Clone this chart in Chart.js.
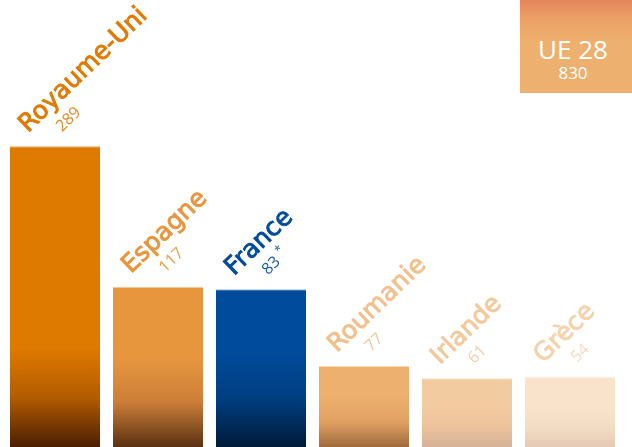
<!DOCTYPE html>
<html>
<head>
<meta charset="utf-8">
<script src="https://cdn.jsdelivr.net/npm/chart.js@4/dist/chart.umd.min.js"></script>
<style>
  html, body { margin: 0; padding: 0; background: #fff; }
  #wrap { position: relative; width: 632px; height: 447px; }
  #ue {
    position: absolute; left: 520px; top: 0; width: 112px; height: 93px;
    background: linear-gradient(#e4855a 0%, #eca266 22%, #eeb06e 45%, #eeb06e 100%);
    color: #fff; text-align: center; font-family: "Open Sans", sans-serif;
  }
  #ue .t { font-size: 26px; font-weight: 500; line-height: 26px; padding-top: 36px; margin-left: -6px; }
  #ue .v { font-size: 17px; font-weight: 400; line-height: 18px; margin-top: 2px; margin-left: -6px; }
</style>
</head>
<body>
<div id="wrap">
  <canvas id="barChart" width="632" height="447"></canvas>
  <div id="ue"><div class="t" id="ueTitle"></div><div class="v" id="ueValue"></div></div>
</div>
<script>
var countries = ["Royaume-Uni", "Espagne", "France", "Roumanie", "Irlande", "Grèce"];
var counts = ["289", "117", "83", "77", "61", "54"];
var notes = ["", "", "*", "", "", ""];
// bar lengths as drawn in the picture (not to scale), % of plot height
var barLevels = [67.3, 35.8, 35.3, 18.1, 15.4, 15.7];
var totalLabel = "UE 28";
var totalValue = "830";

// colours
var topColors = ["#df7a00", "#e8963e", "#004b9b", "#eeb06e", "#f3cba0", "#f9e4cb"];
var midColors = ["#b45c00", "#cc7e38", "#003e80", "#dfa062", "#ecc29c", "#f3dcc4"];
var bottomColors = ["#4a1e00", "#5a3012", "#001a38", "#a06a3c", "#d6b296", "#e4cab4"];
var edgeColors = ["#eaa458", "#f2c69a", "#9fb6d6", "#f7d6b2", "#f9e2c8", "#fcefe2"];
var fadeHeights = [100, 90, 95, 50, 40, 40];
var nameColors = ["#e07b00", "#e8963e", "#004b9b", "#f1c18e", "#f3c99c", "#f5d2ab"];
var valueColors = ["#e58a20", "#ea9e4e", "#1a5ca6", "#f1c69a", "#f4d0aa", "#f8dcc0"];

document.getElementById("ueTitle").textContent = totalLabel;
document.getElementById("ueValue").textContent = totalValue;

var labelPlugin = {
  id: "barLabels",
  afterDatasetsDraw: function(chart) {
    var ctx = chart.ctx;
    var meta = chart.getDatasetMeta(0);
    meta.data.forEach(function(bar, i) {
      ctx.save();
      ctx.translate(bar.x - bar.width / 2 + 18, bar.y - 13);
      ctx.rotate(-44 * Math.PI / 180);
      ctx.textAlign = "left";
      ctx.textBaseline = "alphabetic";
      ctx.fillStyle = nameColors[i];
      ctx.strokeStyle = nameColors[i];
      ctx.lineWidth = 0.9;
      ctx.font = "25px 'DejaVu Sans'";
      ctx.fillText(countries[i], 0, 0);
      ctx.strokeText(countries[i], 0, 0);
      ctx.fillStyle = valueColors[i];
      ctx.font = "400 16px 'Open Sans'";
      ctx.fillText(counts[i], 25, 23);
      if (notes[i]) {
        var w = ctx.measureText(counts[i]).width;
        ctx.font = "400 12px 'Open Sans'";
        ctx.fillText(notes[i], 25 + w + 4, 16);
      }
      ctx.restore();
    });
  }
};

var ctx = document.getElementById("barChart");
var barChart = new Chart(ctx, {
  type: "bar",
  data: {
    labels: countries,
    datasets: [
      {
        data: barLevels,
        backgroundColor: function(c) {
          var area = c.chart.chartArea;
          var i = c.dataIndex;
          if (!area) return topColors[i];
          var g = c.chart.ctx.createLinearGradient(0, area.bottom - fadeHeights[i], 0, area.bottom);
          g.addColorStop(0, topColors[i]);
          g.addColorStop(0.5, midColors[i]);
          g.addColorStop(1, bottomColors[i]);
          return g;
        },
        borderColor: edgeColors,
        borderWidth: { top: 1, left: 0, right: 0, bottom: 0 },
        borderSkipped: "bottom",
        categoryPercentage: 1,
        barPercentage: 0.874,
      },
    ],
  },
  options: {
    responsive: false,
    animation: false,
    layout: { padding: { left: 3.5, right: 10.5, top: 0, bottom: 0 } },
    plugins: { legend: { display: false }, tooltip: { enabled: false } },
    scales: {
      x: { display: false },
      y: { display: false, min: 0, max: 100 },
    },
  },
  plugins: [labelPlugin],
});
</script>
</body>
</html>
